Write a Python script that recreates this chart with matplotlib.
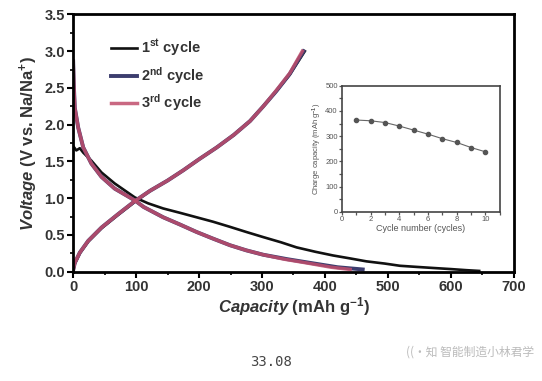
import numpy as np
import matplotlib
matplotlib.use("Agg")
import matplotlib.pyplot as plt
from matplotlib.ticker import MultipleLocator

plt.rcParams['font.family'] = ['Liberation Sans', 'Noto Sans CJK SC', 'DejaVu Sans']
plt.rcParams['mathtext.fontset'] = 'custom'
plt.rcParams['mathtext.rm'] = 'Liberation Sans:bold'
plt.rcParams['mathtext.bf'] = 'Liberation Sans:bold'
plt.rcParams['mathtext.it'] = 'Liberation Sans:italic:bold'

# 1st cycle (black)
dis1_cap = [0, 5, 10.6, 16, 29, 45, 66, 98, 119, 143, 170, 196, 222, 249, 275, 302, 330, 355,
            385, 413, 440, 466, 495, 519, 545, 572, 600, 625, 645]
dis1_v = [1.71, 1.65, 1.68, 1.62, 1.51, 1.35, 1.20, 1.01, 0.93, 0.86, 0.80, 0.74, 0.68, 0.61,
          0.54, 0.47, 0.40, 0.33, 0.27, 0.22, 0.18, 0.14, 0.11, 0.08, 0.065, 0.05, 0.035, 0.02, 0.01]
chg1_cap = [0, 2.6, 10.6, 24, 45, 71, 98, 122, 150, 175, 200, 228, 255, 281, 302, 323, 344, 368]
chg1_v = [0.02, 0.11, 0.25, 0.41, 0.59, 0.77, 0.95, 1.10, 1.24, 1.38, 1.53, 1.69, 1.86, 2.05,
          2.25, 2.46, 2.68, 3.00]

# 2nd cycle
dis2_cap = [0, 1, 2.6, 8, 16, 29, 45, 66, 98, 112, 143, 170, 196, 222, 249, 275, 302, 340, 376,
            420, 460]
dis2_v = [2.86, 2.55, 2.23, 1.96, 1.69, 1.47, 1.29, 1.13, 0.97, 0.88, 0.74, 0.64, 0.54, 0.45,
          0.36, 0.29, 0.23, 0.17, 0.12, 0.06, 0.03]
chg2_cap = [0, 2.6, 10.6, 24, 45, 71, 98, 122, 150, 175, 200, 228, 255, 281, 302, 323, 344, 366]
chg2_v = [0.02, 0.12, 0.26, 0.42, 0.60, 0.78, 0.96, 1.10, 1.24, 1.38, 1.53, 1.69, 1.86, 2.05,
          2.25, 2.46, 2.69, 3.00]

# 3rd cycle
dis3_cap = [0, 1, 2.6, 8, 16, 29, 45, 66, 98, 112, 143, 170, 196, 222, 249, 275, 302, 335, 370,
            410, 440]
dis3_v = [2.86, 2.55, 2.23, 1.96, 1.69, 1.47, 1.29, 1.13, 0.97, 0.88, 0.74, 0.64, 0.54, 0.45,
          0.36, 0.29, 0.23, 0.17, 0.12, 0.06, 0.03]
chg3_cap = [0, 2.6, 10.6, 24, 45, 71, 98, 122, 150, 175, 200, 228, 255, 281, 302, 323, 344, 364]
chg3_v = [0.02, 0.12, 0.26, 0.42, 0.60, 0.78, 0.96, 1.10, 1.24, 1.38, 1.53, 1.69, 1.86, 2.05,
          2.25, 2.47, 2.70, 3.00]

# inset: charge capacity vs cycle number
cycles = [1, 2, 3, 4, 5, 6, 7, 8, 9, 10]
charge_cap = [364, 361, 354, 340, 324, 308, 290, 275, 255, 238]

fig = plt.figure(figsize=(5.42, 3.81), dpi=100)
ax = fig.add_axes([0.135, 0.287, 0.813, 0.675])

c1 = '#111111'
c2 = '#3c3d6e'
c3 = '#c04d6c'

ax.plot(dis1_cap, dis1_v, color=c1, lw=1.9, label='1$^{\\mathrm{st}}$ cycle')
ax.plot(chg1_cap, chg1_v, color=c1, lw=1.9)
ax.plot(dis2_cap, dis2_v, color=c2, lw=2.8, label='2$^{\\mathrm{nd}}$ cycle')
ax.plot(chg2_cap, chg2_v, color=c2, lw=2.8)
ax.plot(dis3_cap, dis3_v, color=c3, lw=2.5, alpha=0.85, label='3$^{\\mathrm{rd}}$ cycle')
ax.plot(chg3_cap, chg3_v, color=c3, lw=2.5, alpha=0.85)

ax.set_xlim(0, 700)
ax.set_ylim(0, 3.5)
ax.xaxis.set_major_locator(MultipleLocator(100))
ax.xaxis.set_minor_locator(MultipleLocator(50))
ax.yaxis.set_major_locator(MultipleLocator(0.5))
ax.yaxis.set_minor_locator(MultipleLocator(0.25))
ax.tick_params(which='major', length=4, width=1.5, labelsize=10.5, pad=2)
ax.tick_params(which='minor', length=2.5, width=1.2)
for lab in ax.get_xticklabels() + ax.get_yticklabels():
    lab.set_fontweight('bold')
    lab.set_color('#333333')
for s in ax.spines.values():
    s.set_linewidth(2)

ax.set_xlabel('$\\mathit{Capacity}$ (mAh g$^{\\mathrm{-1}}$)', fontsize=12, fontweight='bold',
              labelpad=1, color='#333333')
ax.set_ylabel('$\\mathit{Voltage}$ (V vs. Na/Na$^{\\mathrm{+}}$)', fontsize=12, fontweight='bold',
              labelpad=3, color='#333333')

leg = ax.legend(loc='upper left', bbox_to_anchor=(0.055, 0.96), frameon=False,
                handlelength=1.8, handletextpad=0.3, labelspacing=0.45,
                prop={'weight': 'bold', 'size': 10.5})
for t in leg.get_texts():
    t.set_color('#333333')

# inset
ins = fig.add_axes([0.631, 0.444, 0.291, 0.331])
ins.plot(cycles, charge_cap, color='#666666', lw=0.8, marker='o', ms=3,
         mfc='#555555', mec='#555555')
ins.set_xlim(0, 11)
ins.set_ylim(0, 500)
ins.xaxis.set_major_locator(MultipleLocator(2))
ins.xaxis.set_minor_locator(MultipleLocator(1))
ins.yaxis.set_major_locator(MultipleLocator(100))
ins.yaxis.set_minor_locator(MultipleLocator(50))
ins.tick_params(which='both', labelsize=5.5, length=2, width=0.9, pad=1, colors='#555555')
for s in ins.spines.values():
    s.set_linewidth(1.2)
    s.set_color('#444444')
ins.set_xlabel('Cycle number (cycles)', fontsize=6.5, labelpad=1, color='#555555')
ins.set_ylabel('Charge capacity (mAh g$^{\\mathrm{-1}}$)', fontsize=5.5, labelpad=1, color='#555555')

fig.text(0.5, 0.05, '33.08', fontsize=10, family='DejaVu Sans Mono', color='#444444',
         ha='center', va='center')
fig.text(0.985, 0.076, '((·知 智能制造小林君学', fontsize=8.5, color='#bbbbbb',
         ha='right', va='center', family=['Noto Sans CJK SC', 'DejaVu Sans'])

fig.savefig('out.png', dpi=100)
